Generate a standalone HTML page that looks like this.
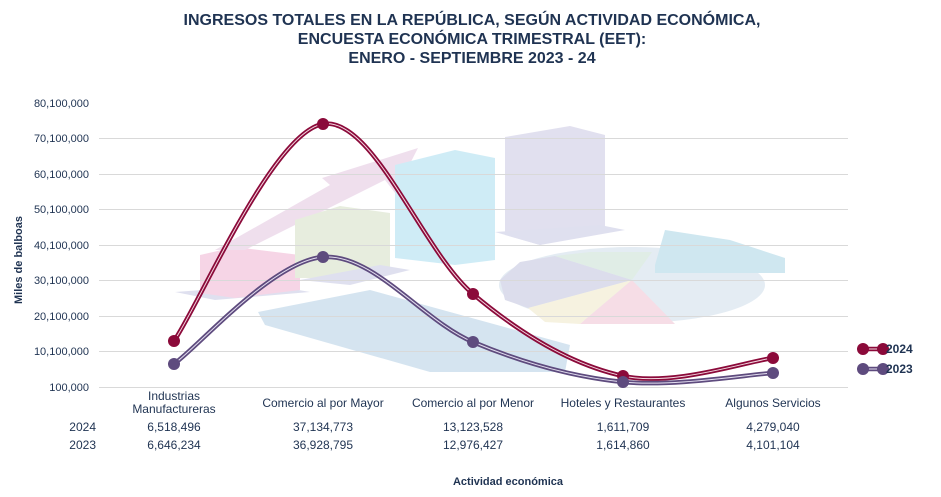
<!DOCTYPE html>
<html><head><meta charset="utf-8"><style>
body{margin:0;background:#fff;width:941px;height:492px;overflow:hidden;font-family:"Liberation Sans",sans-serif}
</style></head><body>
<svg width="941" height="492" viewBox="0 0 941 492" xmlns="http://www.w3.org/2000/svg" font-family="Liberation Sans, sans-serif">
<g font-weight="bold" font-size="16" fill="#1f3352" text-anchor="middle">
<text x="472" y="25">INGRESOS TOTALES EN LA REPÚBLICA, SEGÚN ACTIVIDAD ECONÓMICA,</text>
<text x="472" y="44">ENCUESTA ECONÓMICA TRIMESTRAL (EET):</text>
<text x="472" y="63">ENERO - SEPTIEMBRE 2023 - 24</text>
</g>
<!-- background illustration -->
<g opacity="0.75">
<polygon points="175,292 215,300 310,292 270,285" fill="#d5d6ea"/>
<polygon points="200,255 235,247 300,255 300,290 235,298 200,293" fill="#f4c8de"/>
<polygon points="215,250 330,185 322,178 418,148 395,193 385,180 245,250" fill="#ead5e8"/>
<polygon points="295,220 340,206 390,213 390,268 340,278 295,278" fill="#dfe8d4"/>
<polygon points="300,280 350,285 410,270 380,265" fill="#d5d6ea"/>
<polygon points="395,165 455,150 495,158 495,260 455,265 395,258" fill="#bfe6f4"/>
<polygon points="505,137 570,126 605,135 605,230 540,245 505,235" fill="#d8d6ea"/>
<polygon points="495,232 540,245 625,230 600,225" fill="#d5d6ea"/>
<polygon points="258,312 370,290 570,345 565,372 430,372 265,325" fill="#c8dcec"/>
<ellipse cx="632" cy="285" rx="133" ry="38" fill="#dbe6f0"/>
<polygon points="632,280 555,256 520,262 500,280 505,300 528,308" fill="#d1d2e6"/>
<polygon points="632,280 528,308 545,322 580,324" fill="#f3eed6"/>
<polygon points="632,280 580,324 675,324" fill="#f3d2de"/>
<polygon points="632,280 555,256 590,252 652,252" fill="#d6e8de"/>
<polygon points="655,265 665,230 730,240 785,258 785,273 655,273" fill="#bfe0ec"/>
</g>
<!-- grid -->
<g stroke="#d9d9d9" stroke-width="1">
<line x1="99" x2="848" y1="138.5" y2="138.5"/><line x1="99" x2="848" y1="174.5" y2="174.5"/>
<line x1="99" x2="848" y1="209.5" y2="209.5"/><line x1="99" x2="848" y1="245.5" y2="245.5"/>
<line x1="99" x2="848" y1="280.5" y2="280.5"/><line x1="99" x2="848" y1="316.5" y2="316.5"/>
<line x1="99" x2="848" y1="351.5" y2="351.5"/><line x1="99" x2="848" y1="387.5" y2="387.5"/>
</g>
<g font-size="11" fill="#1f3352" text-anchor="end">
<text x="89" y="107">80,100,000</text><text x="89" y="142">70,100,000</text>
<text x="89" y="178">60,100,000</text><text x="89" y="213">50,100,000</text>
<text x="89" y="249">40,100,000</text><text x="89" y="284">30,100,000</text>
<text x="89" y="320">20,100,000</text><text x="89" y="355">10,100,000</text>
<text x="89" y="391">100,000</text>
</g>
<text transform="translate(22,260) rotate(-90)" font-size="11" font-weight="bold" fill="#1f3352" text-anchor="middle">Miles de balboas</text>
<!-- series -->
<g fill="none">
<path d="M174,341 C199,305 273,132 323,124 C373,116 423,252 473,294 C523,336 573,365 623,376 C673,387 748,361 773,358" stroke="#8b0a3a" stroke-width="4.5"/>
<path d="M174,341 C199,305 273,132 323,124 C373,116 423,252 473,294 C523,336 573,365 623,376 C673,387 748,361 773,358" stroke="#f3d7e0" stroke-width="1"/>
<path d="M174,364 C199,346 273,261 323,257 C373,253 423,321 473,342 C523,363 573,377 623,382 C673,387 748,374.5 773,373" stroke="#5e4b7e" stroke-width="4.5"/>
<path d="M174,364 C199,346 273,261 323,257 C373,253 423,321 473,342 C523,363 573,377 623,382 C673,387 748,374.5 773,373" stroke="#e3def0" stroke-width="1"/>
</g>
<g fill="#8b0a3a"><circle cx="174" cy="341" r="6"/><circle cx="323" cy="124" r="6"/><circle cx="473" cy="294" r="6"/><circle cx="623" cy="376" r="6"/><circle cx="773" cy="358" r="6"/></g>
<g fill="#5e4b7e"><circle cx="174" cy="364" r="6"/><circle cx="323" cy="257" r="6"/><circle cx="473" cy="342" r="6"/><circle cx="623" cy="382" r="6"/><circle cx="773" cy="373" r="6"/></g>
<!-- legend -->
<line x1="863" x2="883" y1="349" y2="349" stroke="#8b0a3a" stroke-width="4.5"/>
<line x1="863" x2="883" y1="349" y2="349" stroke="#f3d7e0" stroke-width="1"/>
<circle cx="863" cy="349" r="6" fill="#8b0a3a"/><circle cx="883" cy="349" r="6" fill="#8b0a3a"/>
<line x1="863" x2="883" y1="369" y2="369" stroke="#5e4b7e" stroke-width="4.5"/>
<line x1="863" x2="883" y1="369" y2="369" stroke="#e3def0" stroke-width="1"/>
<circle cx="863" cy="369" r="6" fill="#5e4b7e"/><circle cx="883" cy="369" r="6" fill="#5e4b7e"/>
<g font-size="12" font-weight="bold" fill="#1f3352"><text x="886" y="353">2024</text><text x="886" y="373">2023</text></g>
<!-- category labels and table -->
<g font-size="12" fill="#1f3352" text-anchor="middle">
<text x="174" y="400">Industrias</text><text x="174" y="413">Manufactureras</text>
<text x="323" y="407">Comercio al por Mayor</text>
<text x="473" y="407">Comercio al por Menor</text>
<text x="623" y="407">Hoteles y Restaurantes</text>
<text x="773" y="407">Algunos Servicios</text>
<text x="174" y="431">6,518,496</text><text x="323" y="431">37,134,773</text><text x="473" y="431">13,123,528</text><text x="623" y="431">1,611,709</text><text x="773" y="431">4,279,040</text>
<text x="174" y="449">6,646,234</text><text x="323" y="449">36,928,795</text><text x="473" y="449">12,976,427</text><text x="623" y="449">1,614,860</text><text x="773" y="449">4,101,104</text>
</g>
<g font-size="12" fill="#1f3352" text-anchor="end"><text x="96" y="431">2024</text><text x="96" y="449">2023</text></g>
<text x="508" y="485" font-size="11" font-weight="bold" fill="#1f3352" text-anchor="middle">Actividad económica</text>
</svg>
</body></html>
